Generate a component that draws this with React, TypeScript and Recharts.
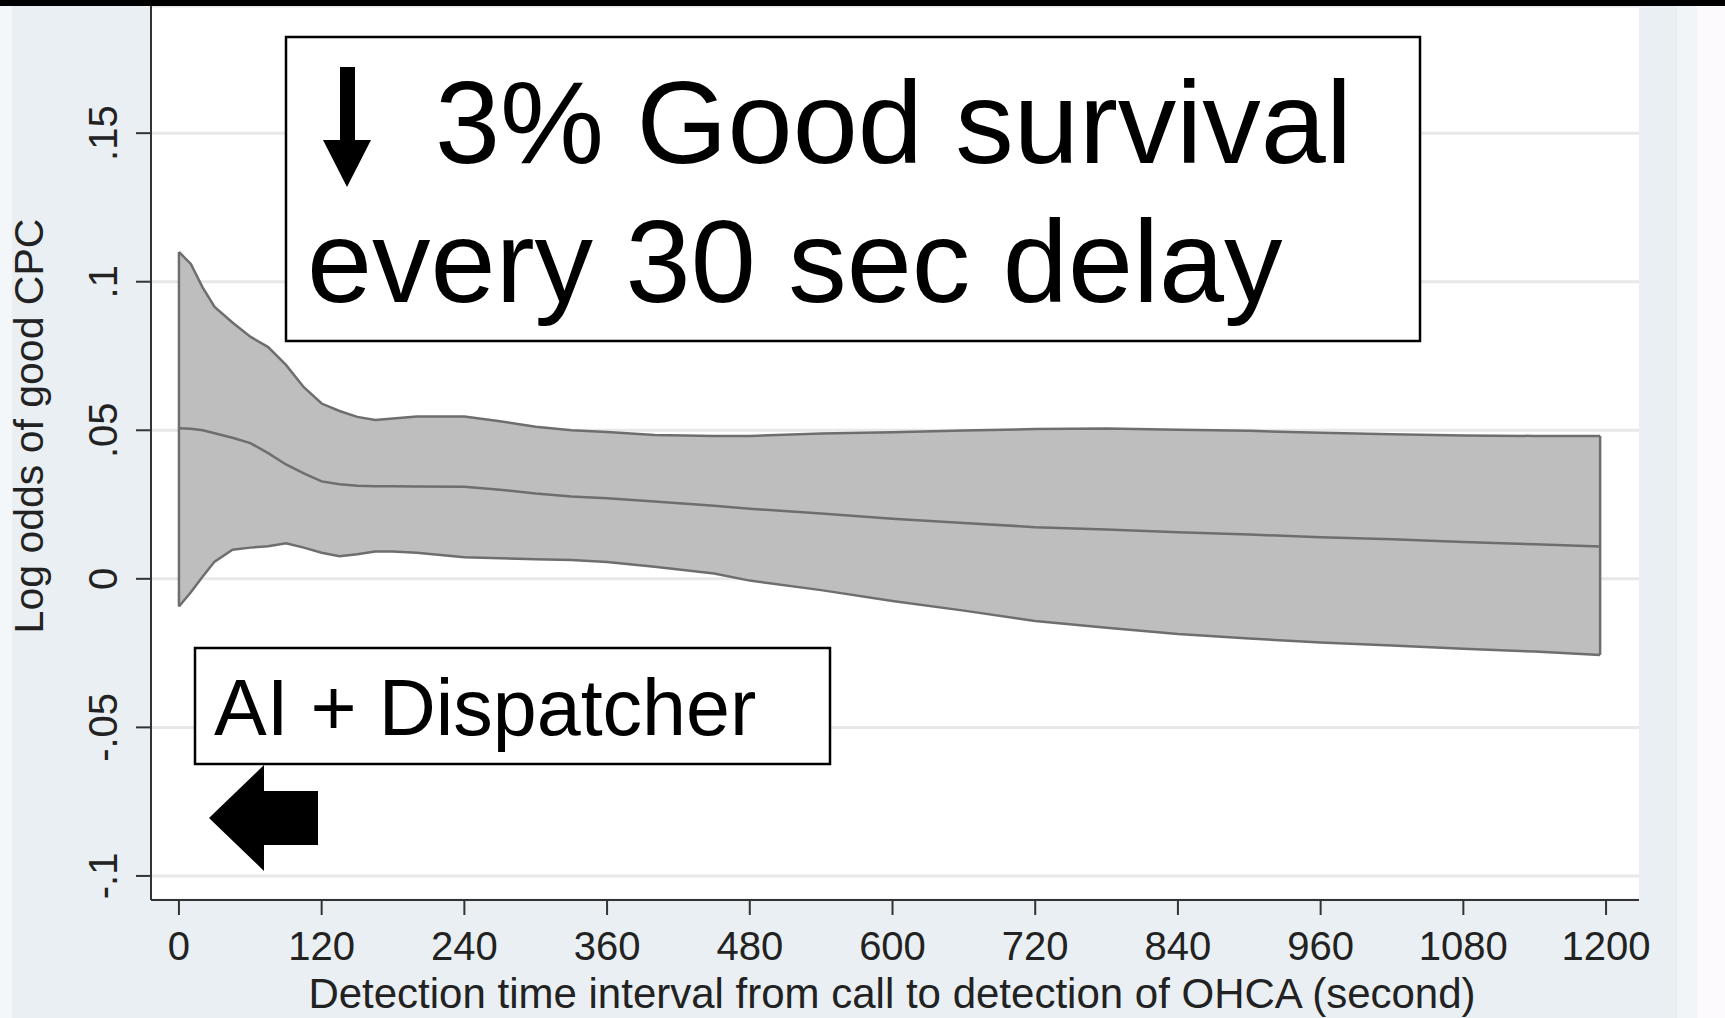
import React from 'react';
import { ComposedChart, Area, Line, XAxis, YAxis, CartesianGrid, ReferenceLine } from 'recharts';

// detection time (s) and the fitted log odds with its confidence band
const timeSec = [0, 10, 20, 30, 45, 60, 75, 90, 105, 120, 135, 150, 165, 180, 200, 240, 270, 300, 330, 360, 400, 450, 480, 540, 600, 660, 720, 780, 840, 900, 960, 1020, 1080, 1140, 1195];
const upperCI = [0.110, 0.106, 0.098, 0.0915, 0.0863, 0.0815, 0.078, 0.072, 0.0645, 0.059, 0.0565, 0.0545, 0.0535, 0.054, 0.0546, 0.0546, 0.053, 0.0512, 0.050, 0.0494, 0.0484, 0.0481, 0.0481, 0.0489, 0.0493, 0.0499, 0.0504, 0.0506, 0.0502, 0.0498, 0.0492, 0.0487, 0.0482, 0.0481, 0.0481];
const estimate = [0.0507, 0.0505, 0.050, 0.049, 0.0475, 0.0457, 0.0423, 0.0385, 0.0355, 0.0328, 0.0318, 0.0313, 0.0312, 0.0312, 0.0311, 0.031, 0.030, 0.0287, 0.0277, 0.0271, 0.026, 0.0246, 0.0236, 0.022, 0.0202, 0.0188, 0.0174, 0.0166, 0.0157, 0.0149, 0.014, 0.0133, 0.0124, 0.0116, 0.0109];
const lowerCI = [-0.0093, -0.0045, 0.0008, 0.0058, 0.0098, 0.0105, 0.011, 0.012, 0.0105, 0.0088, 0.0076, 0.0083, 0.0092, 0.0092, 0.0088, 0.0073, 0.0069, 0.0066, 0.0063, 0.0057, 0.0041, 0.0018, -0.0006, -0.0038, -0.0075, -0.0107, -0.0142, -0.0165, -0.0186, -0.0201, -0.0214, -0.0224, -0.0235, -0.0245, -0.0256];

const xTicks = [0, 120, 240, 360, 480, 600, 720, 840, 960, 1080, 1200];
const yTicks = [-0.1, -0.05, 0, 0.05, 0.1, 0.15];
const yTickLabels = ['-.1', '-.05', '0', '.05', '.1', '.15'];

const data = timeSec.map((t, i) => ({ t, band: [lowerCI[i], upperCI[i]], mid: estimate[i] }));
const last = timeSec.length - 1;

const FONT = '"Liberation Sans", Arial, sans-serif';
const BAND_STROKE = '#6e6e6e';

const YTick = (props: any) => {
  const { x, y, payload } = props;
  const idx = yTicks.indexOf(payload.value);
  return (
    <text x={x} y={y} transform={`rotate(-90, ${x}, ${y})`} textAnchor="middle" fontSize={40} fontFamily={FONT} fill="#222">
      {idx >= 0 ? yTickLabels[idx] : payload.value}
    </text>
  );
};

const XTick = (props: any) => {
  const { x, y, payload } = props;
  return (
    <text x={x} y={y + 43} textAnchor="middle" fontSize={40} fontFamily={FONT} fill="#222">
      {payload.value}
    </text>
  );
};

export default function App() {
  return (
    <div style={{ position: 'relative', width: 1725, height: 1018, background: '#e9eff2', overflow: 'hidden', fontFamily: FONT }}>
      <style>{'body{margin:0}'}</style>
      <div style={{ position: 'absolute', left: 0, top: 0, width: 12, height: 1018, background: '#f4f7f9' }} />
      <div style={{ position: 'absolute', left: 1677, top: 0, width: 20, height: 1018, background: '#f1f5f7' }} />
      <div style={{ position: 'absolute', left: 1697, top: 0, width: 28, height: 1018, background: '#fcfafc' }} />
      <div style={{ position: 'absolute', left: 0, top: 0 }}>
        <ComposedChart width={1725} height={1018} data={data} margin={{ top: 6, right: 86, bottom: 0, left: 0 }}>
          <CartesianGrid horizontal vertical={false} stroke="#e8e8e8" strokeWidth={3} fill="#ffffff" />
          <XAxis
            dataKey="t"
            type="number"
            domain={[-23.5, 1227.7]}
            allowDataOverflow
            ticks={xTicks}
            interval={0}
            height={118}
            tickSize={15}
            tickMargin={2}
            stroke="#333"
            strokeWidth={2}
            tick={<XTick />}
            label={(p: any) => {
              const vb = p.viewBox;
              return (
                <text x={vb.x + vb.width / 2 - 3} y={vb.y + 108} textAnchor="middle" fontSize={42} fontFamily={FONT} fill="#222">
                  Detection time interval from call to detection of OHCA (second)
                </text>
              );
            }}
          />
          <YAxis
            type="number"
            domain={[-0.1081, 0.1928]}
            allowDataOverflow
            ticks={yTicks}
            interval={0}
            width={151}
            tickSize={15}
            tickMargin={19}
            stroke="#333"
            strokeWidth={2}
            tick={<YTick />}
            label={() => (
              <text x={43} y={426} transform="rotate(-90, 43, 426)" textAnchor="middle" fontSize={41} fontFamily={FONT} fill="#222">
                Log odds of good CPC
              </text>
            )}
          />
          <Area
            dataKey="band"
            type="linear"
            fill="#bebebe"
            fillOpacity={1}
            stroke={BAND_STROKE}
            strokeWidth={2.5}
            isAnimationActive={false}
            dot={false}
            activeDot={false}
          />
          <ReferenceLine
            segment={[{ x: timeSec[0], y: lowerCI[0] }, { x: timeSec[0], y: upperCI[0] }]}
            stroke={BAND_STROKE}
            strokeWidth={2.5}
          />
          <ReferenceLine
            segment={[{ x: timeSec[last], y: lowerCI[last] }, { x: timeSec[last], y: upperCI[last] }]}
            stroke={BAND_STROKE}
            strokeWidth={2.5}
          />
          <Line dataKey="mid" type="linear" stroke={BAND_STROKE} strokeWidth={2.5} dot={false} activeDot={false} isAnimationActive={false} />
        </ComposedChart>
      </div>
      {/* annotations pasted on the slide */}
      <svg width={1725} height={1018} style={{ position: 'absolute', left: 0, top: 0, pointerEvents: 'none' }}>
        <rect x={0} y={0} width={1725} height={6} fill="#000" />
        <rect x={286} y={37} width={1134} height={304} fill="#fff" stroke="#000" strokeWidth={2.5} />
        <path d="M340,67 L355,67 L355,140 L371,140 L347,187 L323,140 L340,140 Z" fill="#000" />
        <text x={435} y={163} fontSize={117} fontFamily={FONT} fill="#000">3% Good survival</text>
        <text x={307} y={302} fontSize={117} fontFamily={FONT} fill="#000">every 30 sec delay</text>
        <rect x={195} y={648} width={635} height={116} fill="#fff" stroke="#000" strokeWidth={2.5} />
        <text x={214} y={735} fontSize={79} fontFamily={FONT} fill="#000">AI + Dispatcher</text>
        <path d="M209,818 L264,765 L264,791 L318,791 L318,845 L264,845 L264,871 Z" fill="#000" />
      </svg>
    </div>
  );
}
